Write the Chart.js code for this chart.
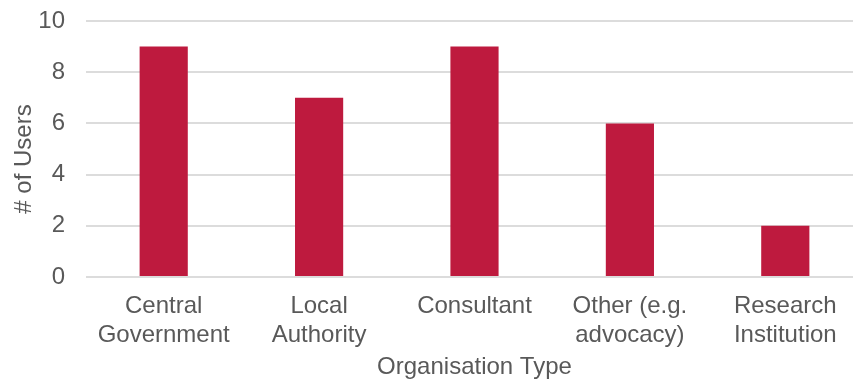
<!DOCTYPE html>
<html>
<head>
<meta charset="utf-8">
<script src="https://cdn.jsdelivr.net/npm/chart.js@4/dist/chart.umd.min.js"></script>
<style>
  html, body { margin: 0; padding: 0; background: #ffffff; overflow: hidden; }
  #wrap { width: 863px; height: 387px; }
</style>
</head>
<body>
<div id="wrap"><canvas id="c" width="863" height="387"></canvas></div>
<script>
const categories = [["Central", "Government"], ["Local", "Authority"], ["Consultant"], ["Other (e.g.", "advocacy)"], ["Research", "Institution"]];
const users = [9, 7, 9, 6, 2];
const yTicks = [0, 2, 4, 6, 8, 10];

const textColor = '#595959';
const font = { family: '"Liberation Sans", Arial, sans-serif', size: 24 };

// Draws the vertical axis title a little below the plot's centre line
const yTitlePlugin = {
  id: 'yTitle',
  afterDraw(chart) {
    const { ctx, chartArea } = chart;
    ctx.save();
    ctx.fillStyle = textColor;
    ctx.font = `${font.size}px ${font.family}`;
    ctx.textAlign = 'center';
    ctx.textBaseline = 'middle';
    ctx.translate(24, (chartArea.top + chartArea.bottom) / 2 + 10);
    ctx.rotate(-Math.PI / 2);
    ctx.fillText('# of Users', 0, 0);
    ctx.restore();
  }
};

new Chart(document.getElementById('c'), {
  type: 'bar',
  data: {
    labels: categories,
    datasets: [{
      data: users,
      backgroundColor: '#BE1A3E',
      categoryPercentage: 1,
      barPercentage: 0.31
    }]
  },
  options: {
    responsive: false,
    animation: false,
    devicePixelRatio: 1,
    layout: { padding: { top: 0, bottom: 0, left: 0, right: 0 } },
    plugins: { legend: { display: false }, tooltip: { enabled: false } },
    scales: {
      x: {
        afterFit: (s) => { s.height = 110; },
        grid: { display: false, drawTicks: false },
        border: { display: false },
        ticks: { color: textColor, font: font, padding: 15, maxRotation: 0, autoSkip: false },
        title: { display: true, text: 'Organisation Type', color: textColor, font: font, padding: { top: 7, bottom: 5 } }
      },
      y: {
        min: 0, max: 10,
        afterBuildTicks: (s) => { s.ticks = yTicks.map(v => ({ value: v })); },
        afterFit: (s) => { s.width = 86; s.paddingTop = 21; s.paddingBottom = 0; },
        grid: { color: '#dcdcdc', lineWidth: 2, drawTicks: false },
        border: { display: false },
        ticks: { color: textColor, font: font, padding: 21 }
      }
    }
  },
  plugins: [yTitlePlugin]
});
</script>
</body>
</html>
